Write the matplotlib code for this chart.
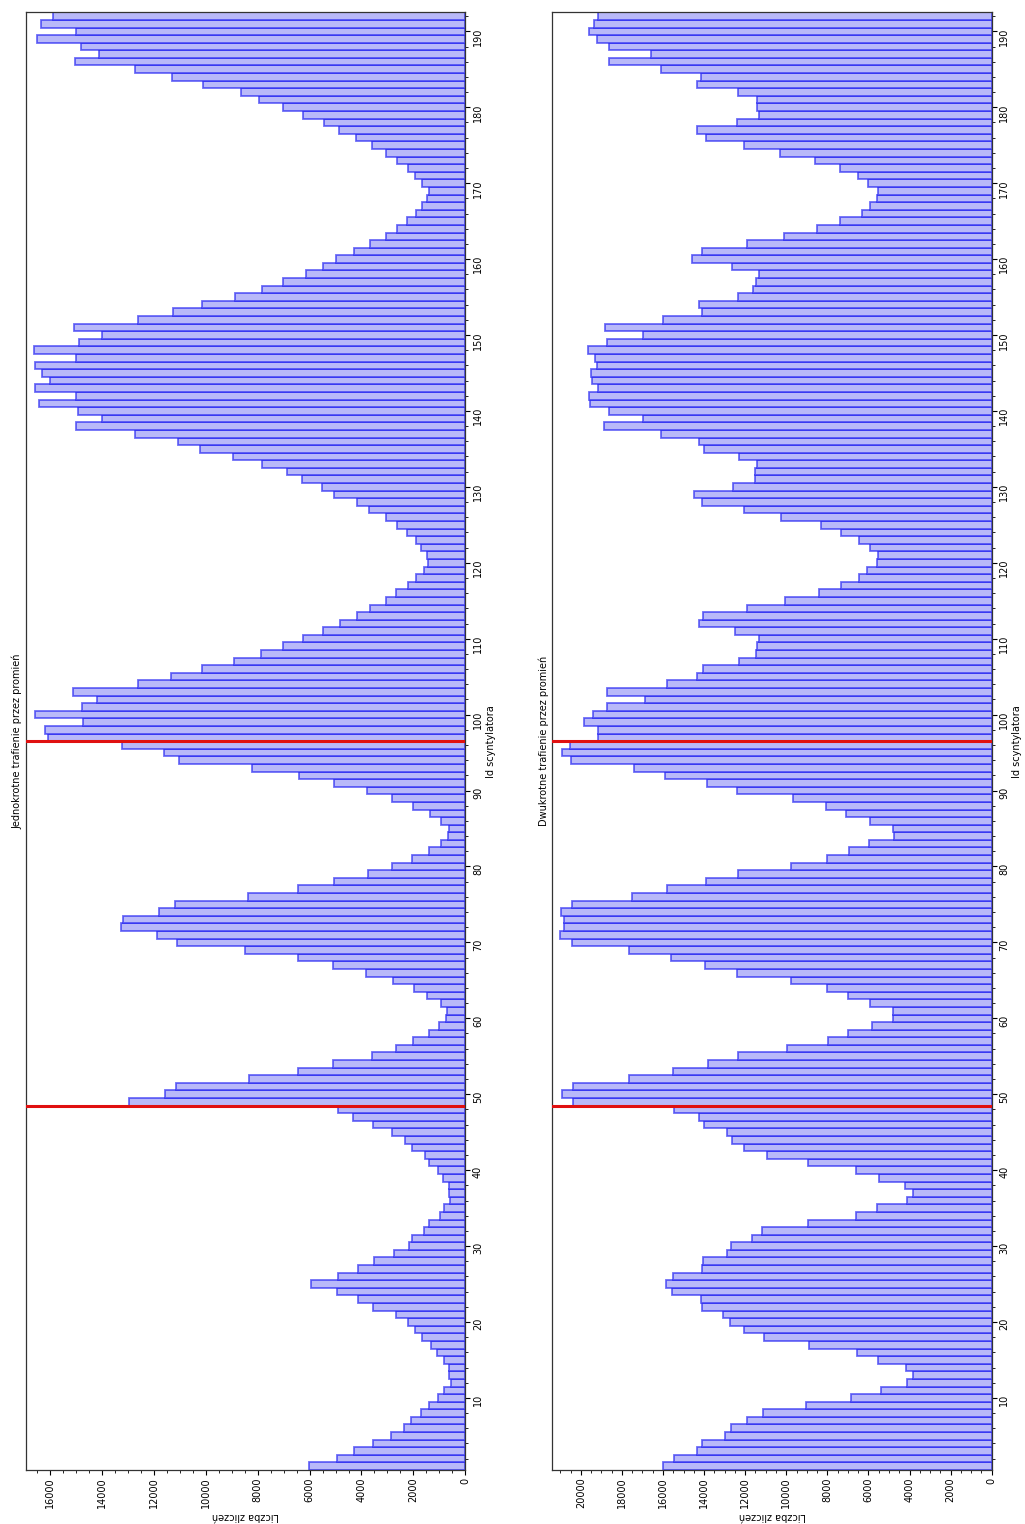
import matplotlib
matplotlib.use("Agg")
import matplotlib.pyplot as plt
from matplotlib.ticker import MultipleLocator
import numpy as np

# counts per scintillator id (1..192)
single_hits = [
    6040, 4960, 4280, 3570, 2860, 2350, 2090, 1710, 1390, 1070,
    810, 570, 620, 620, 810, 1100, 1340, 1660, 1940, 2220,
    2670, 3570, 4150, 4960, 5960, 4920, 4150, 3510, 2740, 2180,
    2060, 1610, 1390, 980, 810, 590, 620, 620, 850, 1070,
    1390, 1550, 2060, 2310, 2840, 3550, 4320, 4920, 12950, 11570,
    11160, 8320, 6440, 5110, 3610, 2690, 2000, 1390, 1000, 750,
    720, 950, 1460, 1980, 2780, 3830, 5090, 6440, 8470, 11100,
    11870, 13280, 13180, 11790, 11180, 8380, 6460, 5060, 3730, 2840,
    2070, 1390, 950, 680, 640, 950, 1360, 2000, 2810, 3780,
    5060, 6410, 8210, 11020, 11610, 13210, 16070, 16200, 14720, 16560,
    14770, 14180, 15110, 12600, 11340, 10160, 8900, 7870, 7040, 6240,
    5470, 4830, 4190, 3670, 3070, 2690, 2220, 1910, 1610, 1430,
    1460, 1710, 1910, 2240, 2620, 3070, 3700, 4160, 5060, 5520,
    6290, 6860, 7850, 8930, 10230, 11060, 12730, 14980, 13990, 14910,
    16430, 15000, 16570, 15980, 16290, 16560, 15000, 16620, 14890, 13990,
    15080, 12600, 11250, 10140, 8860, 7850, 7010, 6140, 5470, 5000,
    4290, 3670, 3070, 2630, 2260, 1910, 1670, 1480, 1410, 1660,
    1940, 2220, 2630, 3060, 3580, 4210, 4860, 5430, 6240, 7010,
    7940, 8630, 10100, 11300, 12730, 15020, 14100, 14810, 16490, 15000,
    16350, 15880,
]

double_hits = [
    16010, 15460, 14360, 14110, 12980, 12700, 11890, 11110, 9040, 6860,
    5390, 4140, 3810, 4170, 5550, 6570, 8890, 11080, 12040, 12730,
    13090, 14110, 14160, 15570, 15850, 15520, 14110, 14060, 12900, 12700,
    11680, 11190, 8950, 6600, 5600, 4140, 3840, 4220, 5470, 6600,
    8950, 10920, 12050, 12620, 12860, 13980, 14240, 15460, 20360, 20920,
    20390, 17650, 15520, 13790, 12330, 9940, 7980, 6980, 5840, 4820,
    4820, 5920, 7010, 8000, 9780, 12410, 13950, 15600, 17650, 20440,
    21010, 20840, 20840, 20960, 20440, 17490, 15780, 13900, 12360, 9780,
    8030, 6940, 5950, 4740, 4820, 5920, 7090, 8060, 9650, 12410,
    13870, 15900, 17400, 20470, 20920, 20520, 19140, 19140, 19840, 19420,
    18700, 16870, 18700, 15780, 14360, 14060, 12300, 11480, 11440, 11320,
    12490, 14270, 14030, 11920, 10060, 8400, 7330, 6460, 6050, 5600,
    5550, 5920, 6440, 7350, 8310, 10250, 12040, 14110, 14490, 12570,
    11520, 11520, 11400, 12280, 14000, 14240, 16090, 18860, 16950, 18620,
    19550, 19580, 19140, 19450, 19500, 19220, 19290, 19630, 18700, 16950,
    18820, 15980, 14110, 14230, 12360, 11630, 11470, 11310, 12650, 14600,
    14110, 11890, 10110, 8480, 7380, 6330, 5920, 5560, 5520, 6030,
    6490, 7380, 8600, 10300, 12080, 13900, 14320, 12380, 11310, 11400,
    11400, 12330, 14360, 14140, 16090, 18620, 16580, 18620, 19220, 19590,
    19350, 19170,
]

ids = np.arange(1, len(single_hits) + 1)
module_edges = [48.5, 96.5]
titles = ["Jednokrotne trafienie przez promień", "Dwukrotne trafienie przez promień"]

plt.rcParams["font.family"] = ["DejaVu Sans"]
plt.rcParams["font.size"] = 7

fig = plt.figure(figsize=(10.25, 15.24), dpi=100)
ax1 = fig.add_axes([0.0254, 0.0354, 0.4286, 0.9565])
ax2 = fig.add_axes([0.5388, 0.0354, 0.4287, 0.9565])

for ax, counts, title in zip([ax1, ax2], [single_hits, double_hits], titles):
    ax.barh(ids, counts, height=1.0, color="#b9b9f9",
            edgecolor=(0.12, 0.12, 0.95, 0.65), linewidth=1.3)
    for edge in module_edges:
        ax.axhline(edge, color="#e01010", lw=2.2, zorder=5)

    ax.set_ylim(0.5, len(ids) + 0.5)
    ax.set_xlim(max(counts) * 1.018, 0)

    ax.yaxis.tick_right()
    ax.yaxis.set_label_position("right")
    ax.yaxis.set_major_locator(MultipleLocator(10))
    ax.yaxis.set_minor_locator(MultipleLocator(2))
    ax.xaxis.set_major_locator(MultipleLocator(2000))
    ax.xaxis.set_minor_locator(MultipleLocator(500))
    ax.tick_params(axis="both", which="major", length=3.5, width=0.8,
                   labelsize=7, pad=2)
    ax.tick_params(axis="both", which="minor", length=2, width=0.6)
    for lab in ax.get_xticklabels() + ax.get_yticklabels():
        lab.set_rotation(90)

    ax.set_ylabel("Id scyntylatora", rotation=90, labelpad=2, fontsize=7)
    ax.set_xlabel("Liczba zliczeń", rotation=180, labelpad=2, fontsize=7)
    ax.text(-0.008, 0.5, title, transform=ax.transAxes, rotation=90,
            ha="right", va="center", fontsize=7)

    for sp in ax.spines.values():
        sp.set_color("#333333")
        sp.set_linewidth(0.9)

fig.savefig("out.png", dpi=100)
